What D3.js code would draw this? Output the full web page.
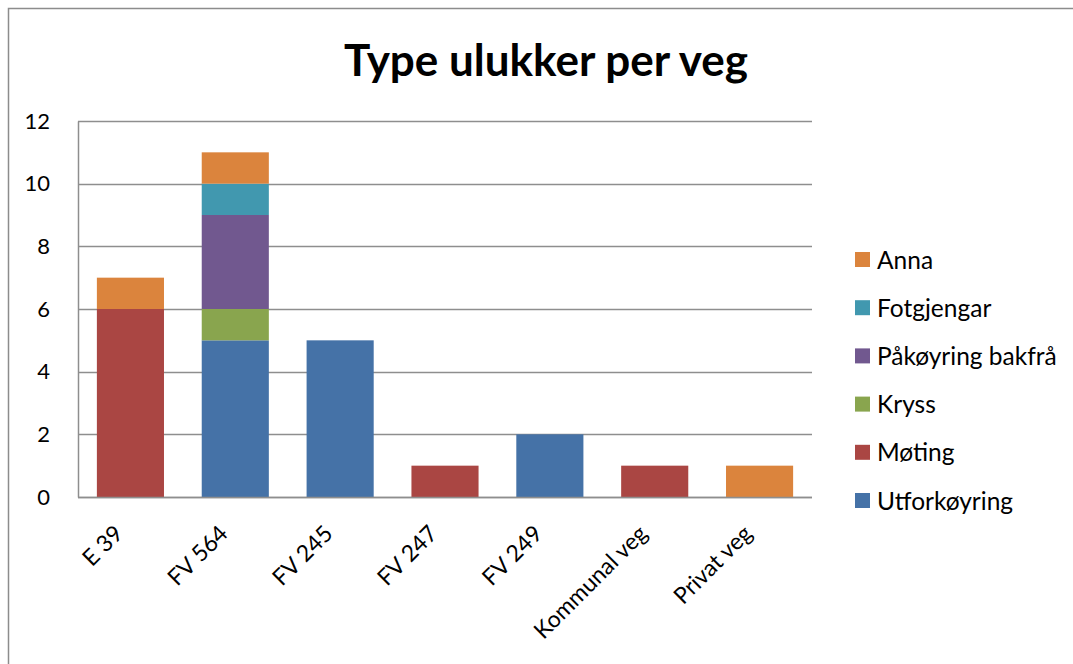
<!DOCTYPE html>
<html>
<head>
<meta charset="utf-8">
<script src="https://cdn.jsdelivr.net/npm/d3@7"></script>
<style>
  body { margin: 0; background: #fff; }
  svg { display: block; font-family: Lato, "Open Sans", sans-serif; }
</style>
</head>
<body>
<svg width="1073" height="664"></svg>
<script>
var categories = ["E 39", "FV 564", "FV 245", "FV 247", "FV 249", "Kommunal veg", "Privat veg"];
var seriesNames = ["Utforkøyring", "Møting", "Kryss", "Påkøyring bakfrå", "Fotgjengar", "Anna"];
var seriesColors = ["#4572A7", "#AA4643", "#89A54E", "#71588F", "#4198AF", "#DB843D"];
var utforkoyring = [0, 5, 5, 0, 2, 0, 0];
var moting      = [6, 0, 0, 1, 0, 1, 0];
var kryss       = [0, 1, 0, 0, 0, 0, 0];
var pakoyring   = [0, 3, 0, 0, 0, 0, 0];
var fotgjengar  = [0, 1, 0, 0, 0, 0, 0];
var anna        = [1, 1, 0, 0, 0, 0, 1];
var yTicks = [0, 2, 4, 6, 8, 10, 12];

var svg = d3.select("svg"),
    width = +svg.attr("width"),
    height = +svg.attr("height");

var values = [utforkoyring, moting, kryss, pakoyring, fotgjengar, anna];
var rows = categories.map(function(c, i) {
  var r = { cat: c };
  seriesNames.forEach(function(s, j) { r[s] = values[j][i]; });
  return r;
});

var plot = { left: 78, right: 812, top: 121, bottom: 497 };

// outer frame
svg.append("rect")
    .attr("x", 8.5).attr("y", 8.5)
    .attr("width", width).attr("height", height)
    .attr("fill", "none")
    .attr("stroke", "#8c8c8c")
    .attr("stroke-width", 1.5);

svg.append("text")
    .attr("x", 546).attr("y", 76)
    .attr("text-anchor", "middle")
    .attr("font-size", 44)
    .attr("font-weight", "bold")
    .text("Type ulukker per veg");

var x = d3.scaleBand()
    .domain(categories)
    .range([plot.left, plot.right])
    .paddingInner(0.36)
    .paddingOuter(0.18);

var y = d3.scaleLinear()
    .domain([0, 12])
    .range([plot.bottom, plot.top]);

// gridlines
svg.append("g")
  .selectAll("line")
  .data(yTicks)
  .enter().append("line")
    .attr("x1", plot.left).attr("x2", plot.right)
    .attr("y1", function(d) { return Math.round(y(d)) + 0.5; })
    .attr("y2", function(d) { return Math.round(y(d)) + 0.5; })
    .attr("stroke", "#8e8e8e")
    .attr("stroke-width", 1.5);

// y axis
var yAxis = svg.append("g")
    .attr("transform", "translate(" + plot.left + ",0)")
    .call(d3.axisLeft(y).tickValues(yTicks).tickSize(0).tickPadding(28));
yAxis.select(".domain").attr("stroke", "#8e8e8e").attr("stroke-width", 1.5);
yAxis.selectAll("text")
    .attr("font-size", 22)
    .attr("fill", "#000")
    .style("font-family", "Lato, sans-serif");

var stack = d3.stack().keys(seriesNames);
var layers = stack(rows);

svg.append("g")
  .selectAll("g")
  .data(layers)
  .enter().append("g")
    .attr("fill", function(d, i) { return seriesColors[i]; })
  .selectAll("rect")
  .data(function(d) { return d.filter(function(p) { return p[1] - p[0] > 0; }); })
  .enter().append("rect")
    .attr("x", function(d) { return x(d.data.cat); })
    .attr("width", x.bandwidth())
    .attr("y", function(d) { return y(d[1]); })
    .attr("height", function(d) { return y(d[0]) - y(d[1]); });

// x axis
var xAxis = svg.append("g")
    .attr("transform", "translate(0," + plot.bottom + ")")
    .call(d3.axisBottom(x).tickSize(0).tickSizeOuter(0).tickPadding(0));
xAxis.select(".domain").attr("stroke", "#8e8e8e").attr("stroke-width", 1.5)
    .attr("d", "M" + plot.left + ",0.5H" + plot.right);
xAxis.selectAll("text")
    .attr("font-size", 23)
    .attr("fill", "#000")
    .style("font-family", "Lato, sans-serif")
    .attr("text-anchor", "end")
    .attr("dy", "0")
    .attr("transform", "translate(-6,38) rotate(-45)");

// legend, listed top-down in reverse series order
var legendOrder = seriesNames.slice().reverse();
var legend = svg.append("g")
  .selectAll("g")
  .data(legendOrder)
  .enter().append("g")
    .attr("transform", function(d, i) { return "translate(855," + (260 + i * 48.2) + ")"; });

legend.append("rect")
    .attr("x", 0).attr("y", -8)
    .attr("width", 15).attr("height", 15)
    .attr("fill", function(d) { return seriesColors[seriesNames.indexOf(d)]; });

legend.append("text")
    .attr("x", 22).attr("y", 0)
    .attr("dy", "0.35em")
    .attr("font-size", 24.5)
    .text(function(d) { return d; });
</script>
</body>
</html>
